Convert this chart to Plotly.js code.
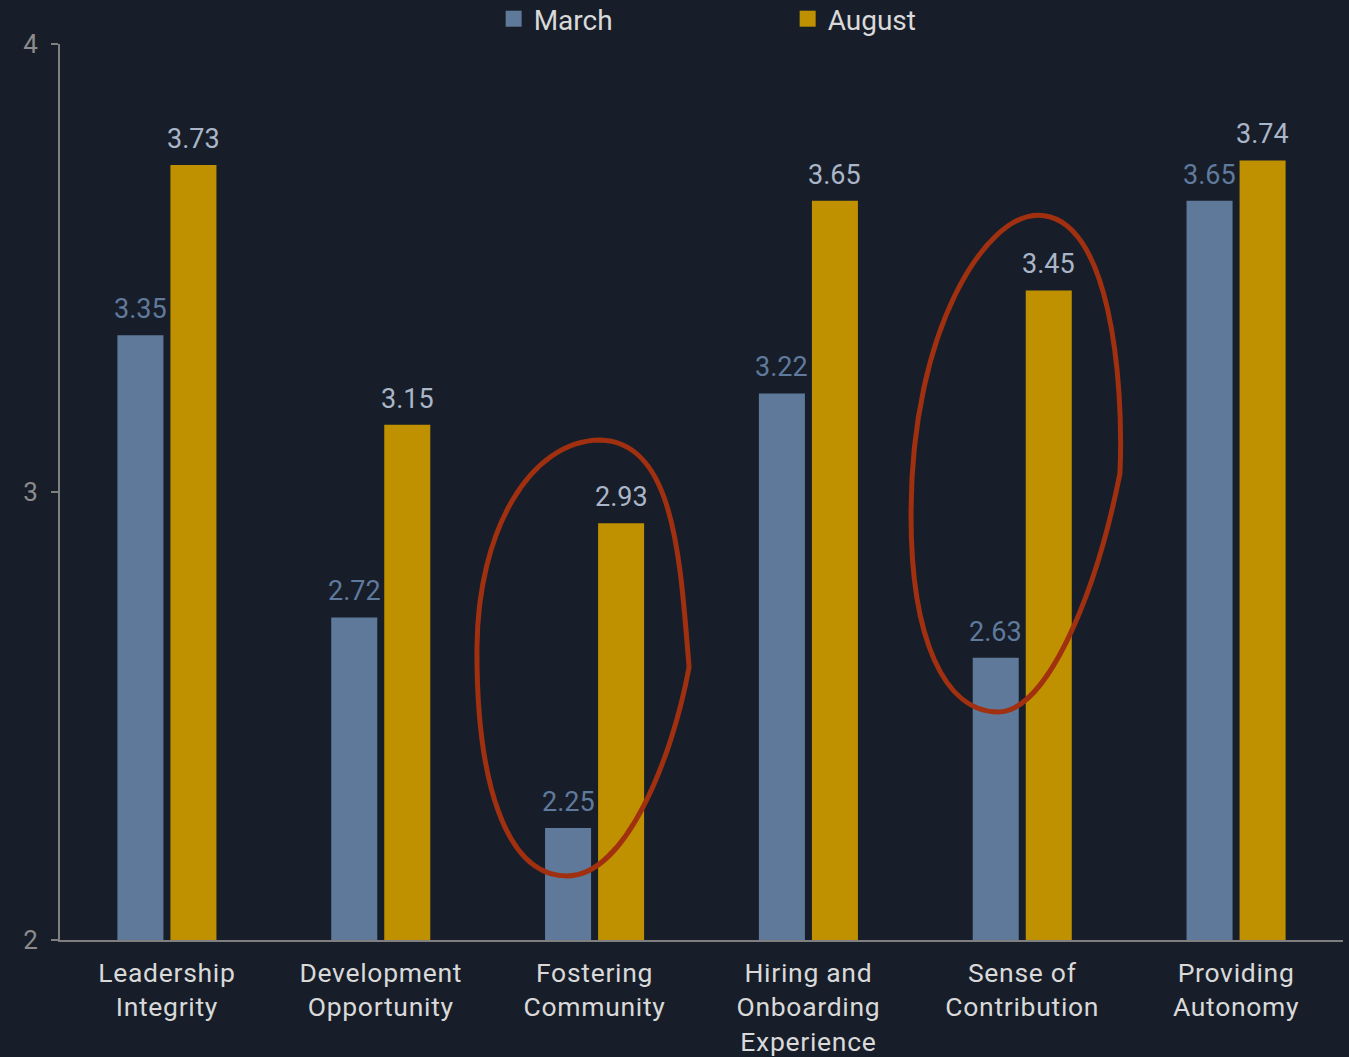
<!DOCTYPE html>
<html>
<head>
<meta charset="utf-8">
<script src="https://cdn.plot.ly/plotly-3.0.1.min.js"></script>
<style>
  html, body { margin: 0; padding: 0; background: #171e29; }
  #chart { width: 1349px; height: 1057px; }
  #chart .xtick text { letter-spacing: 0.7px; }
</style>
</head>
<body>
<div id="chart"></div>
<script>
const categories = [
  "Leadership<br>Integrity",
  "Development<br>Opportunity",
  "Fostering<br>Community",
  "Hiring and<br>Onboarding<br>Experience",
  "Sense of<br>Contribution",
  "Providing<br>Autonomy"
];
const marchValues = [3.35, 2.72, 2.25, 3.22, 2.63, 3.65];
const augustValues = [3.73, 3.15, 2.93, 3.65, 3.45, 3.74];
const yTicks = [2, 3, 4];

// Hand-drawn highlight outlines (category-index x, value y)
const highlight1 = "M2.025,3.116 C1.698,3.114 1.455,2.915 1.450,2.654 C1.446,2.357 1.581,2.143 1.871,2.143 C2.143,2.143 2.362,2.402 2.442,2.609 C2.400,2.848 2.376,3.112 2.025,3.116 Z";
const highlight2 = "M4.074,3.618 C3.826,3.618 3.485,3.362 3.480,2.960 C3.475,2.670 3.639,2.509 3.887,2.509 C4.107,2.509 4.340,2.759 4.457,3.042 C4.476,3.250 4.411,3.618 4.074,3.618 Z";

const font = "Roboto, 'Open Sans', sans-serif";
const marchColor = "#5f799b";
const augustColor = "#bf9000";

const traces = [
  {
    type: "bar", name: "March", x: categories, y: marchValues,
    marker: { color: marchColor }, showlegend: false, hoverinfo: "skip"
  },
  {
    type: "bar", name: "August", x: categories, y: augustValues,
    marker: { color: augustColor }, showlegend: false, hoverinfo: "skip"
  },
  // legend-only entries with larger square keys
  {
    type: "scatter", mode: "markers", name: "March", x: [null], y: [null],
    marker: { symbol: "square", size: 16, color: marchColor }, showlegend: true
  },
  {
    type: "scatter", mode: "markers", name: "August", x: [null], y: [null],
    marker: { symbol: "square", size: 16, color: augustColor }, showlegend: true
  }
];

function labels(values, color, shift) {
  return values.map((v, i) => ({
    x: categories[i], y: v, xref: "x", yref: "y",
    text: v.toFixed(2), showarrow: false,
    xanchor: "center", yanchor: "bottom",
    xshift: shift, yshift: 8,
    font: { family: font, size: 27, color: color }
  }));
}

const layout = {
  width: 1349, height: 1057,
  paper_bgcolor: "#171e29", plot_bgcolor: "#171e29",
  margin: { l: 60, r: 6, t: 44, b: 117, autoexpand: false },
  font: { family: font, color: "#d9d9d9" },
  barmode: "group", bargap: 0.504, bargroupgap: 0.132,
  showlegend: true,
  legend: {
    orientation: "h", x: 0.338, xanchor: "left", y: 1.0, yanchor: "bottom",
    font: { family: font, size: 28, color: "#d9d9d9" },
    entrywidth: 249, entrywidthmode: "pixels", itemwidth: 30,
    bgcolor: "rgba(0,0,0,0)", traceorder: "normal"
  },
  xaxis: {
    type: "category", showgrid: false, zeroline: false,
    showline: true, linecolor: "#7f7f7f", linewidth: 2,
    ticks: "", tickfont: { family: font, size: 26.5, color: "#d9d9d9" },
    ticklabelstandoff: 8,
    range: [-0.5, 5.5], fixedrange: true
  },
  yaxis: {
    range: [2, 4], tickvals: yTicks, ticktext: yTicks.map(String),
    showgrid: false, zeroline: false,
    showline: true, linecolor: "#7f7f7f", linewidth: 2,
    ticks: "outside", ticklen: 7, tickcolor: "#7f7f7f", tickwidth: 2,
    tickfont: { family: font, size: 26, color: "#8c8c8c" },
    ticklabelstandoff: 8, fixedrange: true
  },
  annotations: labels(marchValues, "#5f7a9c", -26.5).concat(labels(augustValues, "#aab6c8", 26.5)),
  shapes: [
    { type: "path", xref: "x", yref: "y", path: highlight1, line: { color: "#a0300f", width: 5 } },
    { type: "path", xref: "x", yref: "y", path: highlight2, line: { color: "#a0300f", width: 5 } }
  ]
};

Plotly.newPlot("chart", traces, layout, { displayModeBar: false, staticPlot: true });
</script>
</body>
</html>
